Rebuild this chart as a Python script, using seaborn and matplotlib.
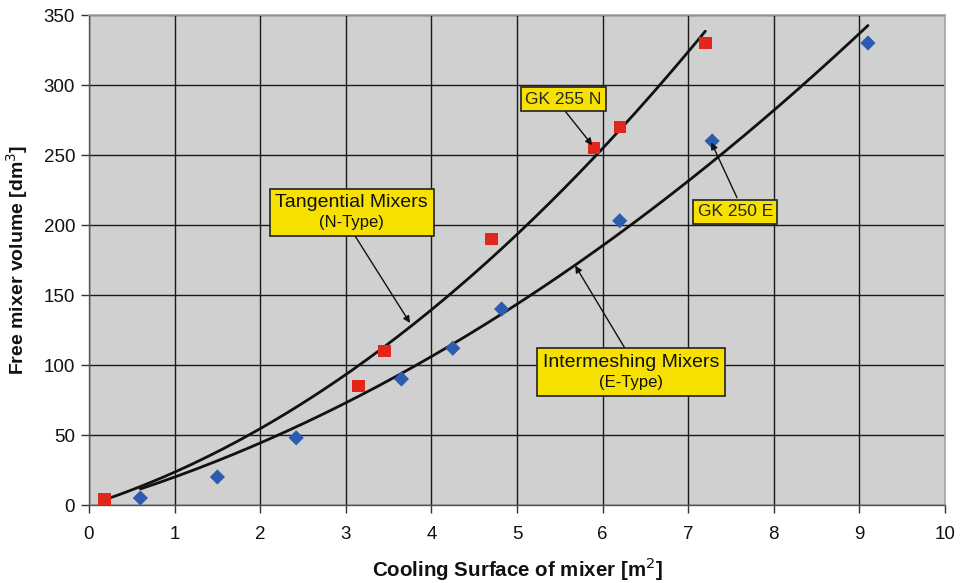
import matplotlib
matplotlib.use("Agg")
import matplotlib.pyplot as plt
from matplotlib.offsetbox import AnnotationBbox, TextArea, VPacker
import seaborn as sns
import pandas as pd
import numpy as np

# Data
n_x = [0.18, 3.15, 3.45, 4.70, 5.90, 6.20, 7.20]
n_y = [4, 85, 110, 190, 255, 270, 330]
e_x = [0.60, 1.50, 2.42, 3.65, 4.25, 4.82, 6.20, 7.28, 9.10]
e_y = [5, 20, 48, 90, 112, 140, 203, 260, 330]

x_ticks = [0, 1, 2, 3, 4, 5, 6, 7, 8, 9, 10]
y_ticks = [0, 50, 100, 150, 200, 250, 300, 350]

RED = "#e2261c"
BLUE = "#2b5cb0"
YELLOW = "#f7e100"
BG = "#d0d0d0"

sns.set_theme(style="white")
plt.rcParams["font.family"] = ["Liberation Sans", "DejaVu Sans"]

df_n = pd.DataFrame({"x": n_x, "y": n_y})
df_e = pd.DataFrame({"x": e_x, "y": e_y})


def trend(df):
    """Quadratic trend line through the origin (least squares on the data)."""
    x = df["x"].to_numpy(float)
    y = df["y"].to_numpy(float)
    A = np.column_stack([x ** 2, x])
    coef, *_ = np.linalg.lstsq(A, y, rcond=None)
    xs = np.linspace(x.min(), x.max(), 200)
    return pd.DataFrame({"x": xs, "y": coef[0] * xs ** 2 + coef[1] * xs})


fig = plt.figure(figsize=(9.65, 5.83), dpi=100)
ax = fig.add_axes([89 / 965, 1 - 505 / 583, (945 - 89) / 965, (505 - 15) / 583])
ax.set_facecolor(BG)

sns.lineplot(data=trend(df_n), x="x", y="y", color="#111111", lw=2.0, ax=ax, zorder=3)
sns.lineplot(data=trend(df_e), x="x", y="y", color="#111111", lw=2.0, ax=ax, zorder=3)

sns.scatterplot(data=df_n, x="x", y="y", marker="s", s=80, color=RED,
                edgecolor="none", ax=ax, zorder=4)
sns.scatterplot(data=df_e, x="x", y="y", marker="D", s=60, color=BLUE,
                edgecolor="none", ax=ax, zorder=4)

ax.set_xlim(0, 10)
ax.set_ylim(0, 350)
ax.set_xticks(x_ticks)
ax.set_yticks(y_ticks)
ax.grid(True, color="#1a1a1a", lw=1.0)
ax.set_axisbelow(True)

for s in ["top", "right"]:
    ax.spines[s].set_color("#a8a8a8")
    ax.spines[s].set_linewidth(1.2)
for s in ["left", "bottom"]:
    ax.spines[s].set_color("#555555")
    ax.spines[s].set_linewidth(1.0)

ax.tick_params(axis="both", direction="out", length=6, width=1, color="#333333",
               labelsize=13.5, labelcolor="#111111", pad=4, bottom=True, left=True)
ax.tick_params(axis="x", pad=9)

ax.set_xlabel("Cooling Surface of mixer [m$^2$]", fontsize=14.8, fontweight="bold",
              labelpad=9, color="#111111")
ax.set_ylabel("Free mixer volume [dm$^3$]", fontsize=14, fontweight="bold",
              labelpad=10, color="#111111")

box = dict(boxstyle="square,pad=0.25", facecolor=YELLOW, edgecolor="#222222", lw=1.2)
arrow = dict(arrowstyle="-|>", color="#111111", lw=1.0, mutation_scale=10,
             shrinkA=0, shrinkB=0)

# single-line labels
ax.text(5.54, 290, "GK 255 N", ha="center", va="center", fontsize=12.5, bbox=box, zorder=6)
ax.annotate("", xy=(5.88, 257), xytext=(5.56, 281.5), arrowprops=arrow, zorder=5)

ax.text(7.55, 209.5, "GK 250 E", ha="center", va="center", fontsize=12.5, bbox=box, zorder=6)
ax.annotate("", xy=(7.27, 259), xytext=(7.57, 219.5), arrowprops=arrow, zorder=5)


# two-line labels (title line larger, type line smaller)
def two_line_box(x, y, title, sub):
    pack = VPacker(children=[TextArea(title, textprops=dict(fontsize=14, color="#111111")),
                             TextArea(sub, textprops=dict(fontsize=12, color="#111111"))],
                   align="center", pad=4, sep=3)
    ab = AnnotationBbox(pack, (x, y), xycoords="data", box_alignment=(0.5, 0.5),
                        frameon=True, pad=0,
                        bboxprops=dict(boxstyle="square,pad=0", facecolor=YELLOW,
                                       edgecolor="#222222", lw=1.2))
    ab.set_zorder(6)
    ax.add_artist(ab)


two_line_box(3.07, 209, "Tangential Mixers", "(N-Type)")
ax.annotate("", xy=(3.75, 130), xytext=(3.11, 192), arrowprops=arrow, zorder=5)

two_line_box(6.33, 95, "Intermeshing Mixers", "(E-Type)")
ax.annotate("", xy=(5.68, 171), xytext=(6.26, 112), arrowprops=arrow, zorder=5)

fig.savefig("out.png", dpi=100)
